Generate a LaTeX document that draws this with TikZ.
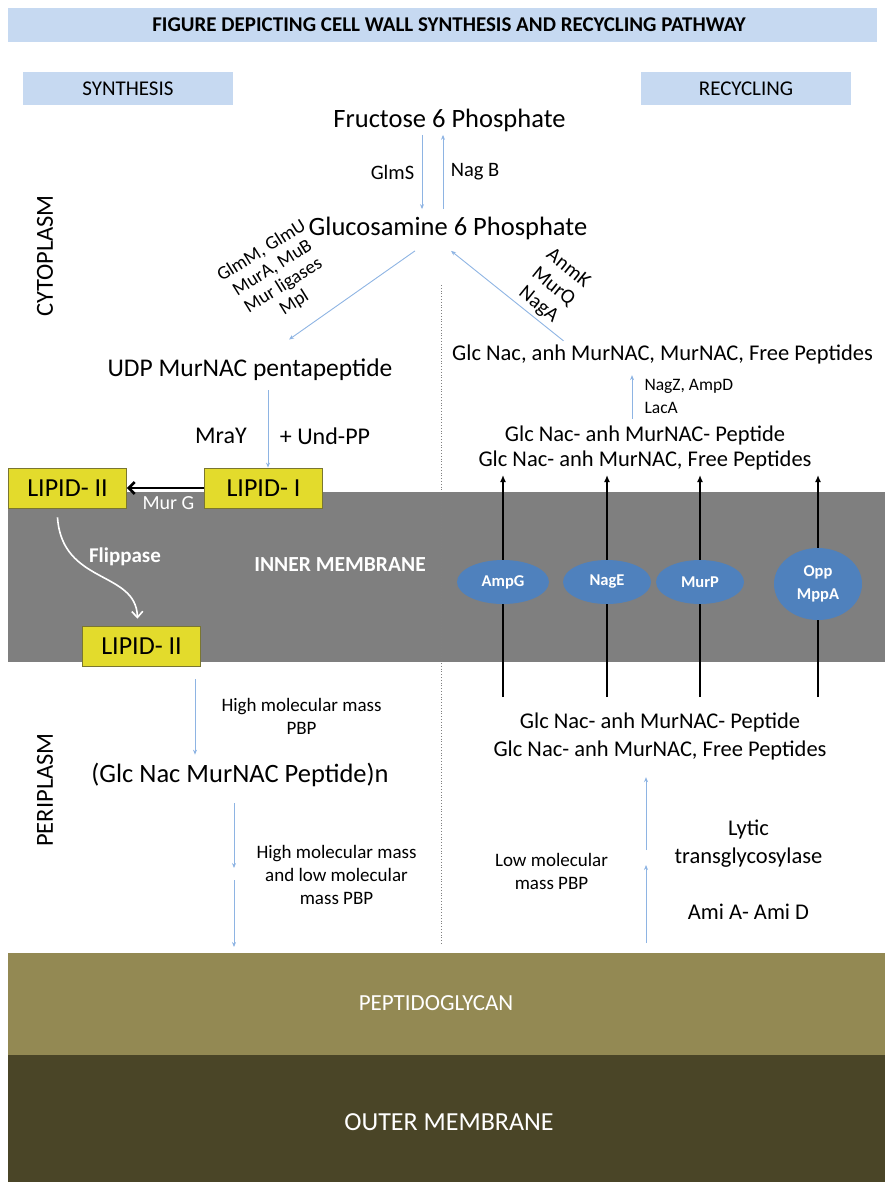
\documentclass[tikz,border=0pt]{standalone}
\usepackage{fontspec}
\setmainfont{Carlito}
\usetikzlibrary{arrows.meta,shapes.geometric}
\definecolor{bannerblue}{HTML}{C6D9F1}
\definecolor{flowblue}{HTML}{8EB4E3}
\definecolor{porterblue}{HTML}{4F81BD}
\definecolor{lipidyellow}{HTML}{E3DB2C}
\definecolor{lipidedge}{HTML}{7A7630}
\definecolor{membgray}{HTML}{7F7F7F}
\definecolor{pgolive}{HTML}{938953}
\definecolor{omdark}{HTML}{4A4527}
\newcommand{\fsz}[2]{\fontsize{#1pt}{#2pt}\selectfont}
\begin{document}
\begin{tikzpicture}[x=1pt, y=-1pt,
    banner/.style={fill=bannerblue, inner sep=0pt},
    flow/.style={draw=flowblue, line width=0.9pt, -{Stealth[length=5pt,width=4pt]}},
    lipid/.style={draw=lipidedge, fill=lipidyellow, line width=0.8pt, minimum width=118pt, minimum height=40pt, font=\fsz{26}{30}},
    porter/.style={ellipse, fill=porterblue, text=white, font=\bfseries\fsz{16.5}{23}, align=center, minimum width=88pt, minimum height=44pt, inner sep=0pt},
    transport/.style={line width=1.6pt, -{Latex[length=7pt,width=6pt]}},
    big/.style={font=\fsz{26.5}{30}},
    mid/.style={font=\fsz{22.5}{25}, align=center},
    enz/.style={font=\fsz{20.5}{24}, align=center},
    small/.style={font=\fsz{19}{23}, align=center},
    layer/.style={text=white, font=\fsz{23}{26}},
]
\useasboundingbox (0,0) rectangle (885,1182);

% layers
\fill[membgray] (8,492) rectangle (885,662);
\fill[pgolive] (8,953) rectangle (885,1055);
\fill[omdark] (8,1055) rectangle (885,1182);
\coordinate (pgtop) at (446,953);

% headings
\fill[bannerblue] (8,8) rectangle (877,42);
\node[font=\bfseries\fsz{21}{24}] (title) at (449,25) {FIGURE DEPICTING CELL WALL SYNTHESIS AND RECYCLING PATHWAY};
\node[banner, minimum width=210pt, minimum height=33pt, font=\fsz{21}{24}] (synth) at (128,89) {SYNTHESIS};
\node[banner, minimum width=210pt, minimum height=33pt, font=\fsz{21}{24}] (recyc) at (746,89) {RECYCLING};
\node[rotate=90, font=\fsz{24.5}{28}] (cyto) at (45,256) {CYTOPLASM};
\node[rotate=90, font=\fsz{24.5}{28}] (peri) at (45,790) {PERIPLASM};

\draw[gray, dotted, line width=0.8pt] (441,285) -- (441,945);

% cytoplasm
\node[big] (fru) at (449.5,120) {Fructose 6 Phosphate};
\node[big] (glc) at (448,228) {Glucosamine 6 Phosphate};
\draw[flow] ([xshift=-27.5pt]fru.south) -- ([xshift=-26pt, yshift=4pt]glc.north) node[enz, midway, left=4pt] (glms) {GlmS};
\draw[flow] ([xshift=-5pt, yshift=4pt]glc.north) -- ([xshift=-6.5pt]fru.south) node[enz, midway, right=4pt] (nagb) {Nag B};

\node[big, font=\fsz{25.5}{30}] (udp) at (250,370) {UDP MurNAC pentapeptide};
\draw[flow] ([xshift=-33pt, yshift=-8pt]glc.south) -- ([xshift=39pt, yshift=16pt]udp.north);
\node[enz, font=\fsz{19}{20.5}, rotate=32] (murs) at (278,277) {GlmM, GlmU\\MurA, MuB\\Mur ligases\\Mpl};

\node[mid] (rec1) at (662.5,354) {Glc Nac, anh MurNAC, MurNAC, Free Peptides};
\draw[flow] ([xshift=-99pt]rec1.north) -- ([xshift=3pt, yshift=-8pt]glc.south);
\node[enz, font=\fsz{20.5}{23.5}, rotate=-39] (anmk) at (553,287) {AnmK\\MurQ\\NagA};

\node[mid] (rec2) at (645,447.5) {Glc Nac- anh MurNAC- Peptide\\Glc Nac- anh MurNAC, Free Peptides};
\draw[flow] ([xshift=-13pt, yshift=3pt]rec2.north) -- ([xshift=-30.5pt, yshift=-8pt]rec1.south);
\node[font=\fsz{17.5}{23}, align=left, anchor=west] (nagz) at (641,396.5) {NagZ, AmpD\\LacA};

\node[big, font=\fsz{24}{28}] (mray) at (221,436) {MraY};
\node[big, font=\fsz{24}{28}] (undpp) at (325,436) {+ Und-PP};

% lipid carriers
\node[lipid] (lipIIa) at (67.5,488) {LIPID- II};
\node[lipid] (lipI) at (263.5,488) {LIPID- I};
\node[lipid] (lipIIb) at (141.5,646) {LIPID- II};
\draw[flow] ([xshift=18pt, yshift=-6pt]udp.south) -- ([xshift=4.5pt]lipI.north);
\draw[line width=2.6pt, -{Straight Barb[length=6pt,width=12pt]}] (lipI.west) -- (lipIIa.east)
  node[midway, below=4pt, xshift=3pt, text=white, font=\fsz{20}{22}] (murg) {Mur G};
\draw[white, line width=1.6pt, -{Straight Barb[length=6pt,width=11pt]}] ([xshift=-10pt, yshift=-9pt]lipIIa.south)
  .. controls (62,585) and (136,570) .. ([xshift=-4pt, yshift=7pt]lipIIb.north);
\node[text=white, font=\bfseries\fsz{21}{24}] (flip) at (125,557) {Flippase};
\node[text=white, font=\bfseries\fsz{21.5}{24}] (inner) at (340,565) {INNER MEMBRANE};

% transporters
\node[mid, font=\fsz{22.5}{28}] (peri1) at (660,736) {Glc Nac- anh MurNAC- Peptide\\Glc Nac- anh MurNAC, Free Peptides};
\coordinate (xampg) at (503,582);
\coordinate (xnage) at (607,582);
\coordinate (xmurp) at (700,582);
\coordinate (xopp) at (818,584);
\foreach \t in {xampg,xnage,xmurp,xopp}
  \draw[transport] (\t |- 0,697) -- (\t |- 0,475);
\node[porter, minimum width=92pt] (ampg) at (xampg) {AmpG};
\node[porter] (nage) at (xnage) {NagE};
\node[porter] (murp) at (xmurp) {MurP};
\node[porter, minimum height=72pt] (opp) at (xopp) {Opp\\MppA};

% periplasm, synthesis side
\node[big, font=\fsz{26.5}{30}] (pgn) at (240,775) {(Glc Nac MurNAC Peptide)n};
\draw[flow] ([xshift=53.5pt, yshift=-13pt]lipIIb.south) -- ([xshift=-45pt, yshift=5pt]pgn.north);
\node[small] (hmm) at (301.5,716.5) {High molecular mass\\PBP};
\coordinate (hl) at (234,874);
\draw[flow] ([xshift=-6pt, yshift=-13pt]pgn.south) -- ([yshift=6pt]hl);
\draw[flow] ([yshift=-6pt]hl) -- ([yshift=6pt]hl |- pgtop);
\node[small] (hlmm) at (336.5,875) {High molecular mass\\and low molecular\\mass PBP};

% periplasm, recycling side
\coordinate (lt) at (646,857);
\draw[flow] ([yshift=10pt]lt |- pgtop) -- ([yshift=-8pt]lt);
\draw[flow] ([yshift=7pt]lt) -- ([yshift=-14pt]lt |- peri1.south);
\node[small] (lmm) at (551.5,871.5) {Low molecular\\mass PBP};
\node[mid, font=\fsz{22.5}{28}] (lytic) at (748.5,844) {Lytic\\transglycosylase};
\node[mid] (ami) at (748.5,912) {Ami A- Ami D};

% wall layers
\node[layer] (pgname) at (436,1003) {PEPTIDOGLYCAN};
\node[layer, font=\fsz{26}{30}] (omname) at (449,1122) {OUTER MEMBRANE};
\end{tikzpicture}
\end{document}
